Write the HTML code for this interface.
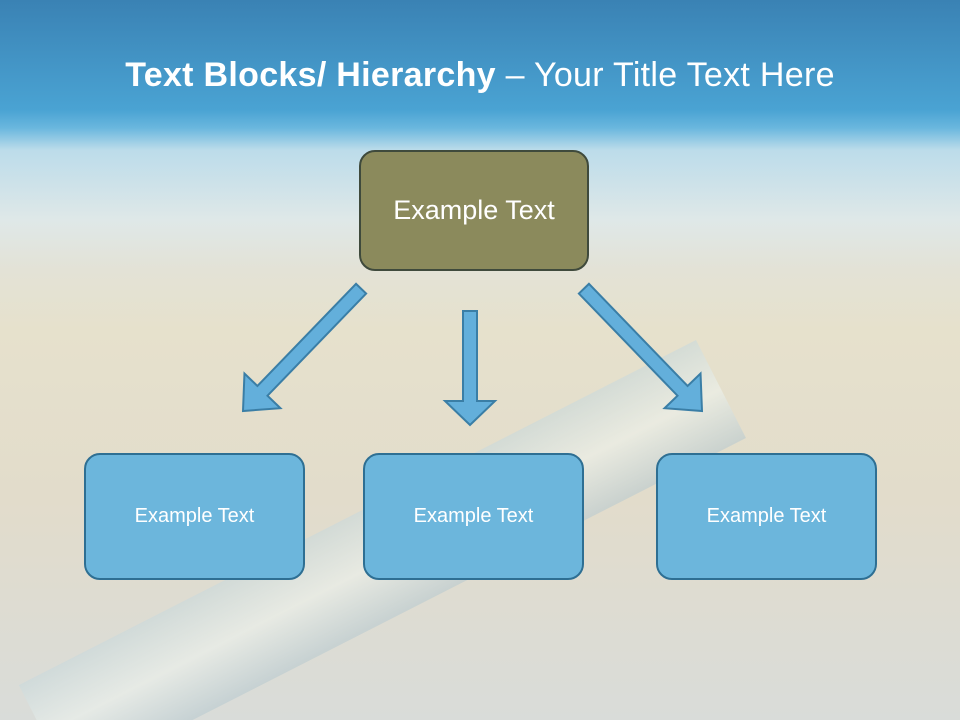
<!DOCTYPE html>
<html style="margin:0;width:960px;height:720px;overflow:hidden;"><head><meta charset="utf-8"><style>
body{margin:0;width:960px;height:720px;overflow:hidden;font-family:"Liberation Sans",sans-serif;position:relative;
background:linear-gradient(to bottom,#3a82b4 0px,#4aa3d3 110px,#6ab7de 128px,#bcdcea 150px,#dfe8e8 220px,#e3e2d6 270px,#e6e1cc 330px,#e2dccb 500px,#d9dcd9 720px);}
.t{position:absolute;top:56px;left:0;width:960px;text-align:center;color:#fff;font-size:34px;letter-spacing:0.3px;}
.b{position:absolute;box-sizing:border-box;border-radius:16px;display:flex;align-items:center;justify-content:center;color:#fff;}
.s{background:#6cb6dc;border:2px solid #2e6f93;font-size:20px;top:453px;width:221px;height:127px;}
svg{position:absolute;left:0;top:0}
.clip{position:absolute;left:0;top:0;width:960px;height:720px;overflow:hidden}
.pipe{position:absolute;background:linear-gradient(to bottom,#c9d9dc,#eef3ee,#b9cad0);opacity:.6}
</style></head><body>
<div class="clip"><div class="pipe" style="left:0;top:560px;width:760px;height:110px;transform-origin:0 0;transform:rotate(-27deg) translate(-40px,120px);"></div></div>
<div class="t"><b>Text Blocks/ Hierarchy</b> – Your Title Text Here</div>
<div class="b" style="left:359px;top:150px;width:230px;height:121px;background:#8b8a5c;border:2px solid #3f4a3c;font-size:27px;">Example Text</div>
<div class="b s" style="left:84px">Example Text</div>
<div class="b s" style="left:363px">Example Text</div>
<div class="b s" style="left:656px">Example Text</div>
<svg width="960" height="720">
<g fill="#63afdb" stroke="#3a7ea6" stroke-width="2">
<polygon transform="translate(243,411) rotate(44)" points="-7,-170 7,-170 7,-28 25,-28 0,0 -25,-28 -7,-28"/>
<polygon transform="translate(470,425)" points="-7,-114 7,-114 7,-24 25,-24 0,0 -25,-24 -7,-24"/>
<polygon transform="translate(702,411) rotate(-44)" points="-7,-170 7,-170 7,-28 25,-28 0,0 -25,-28 -7,-28"/>
</g></svg>
</body></html>
